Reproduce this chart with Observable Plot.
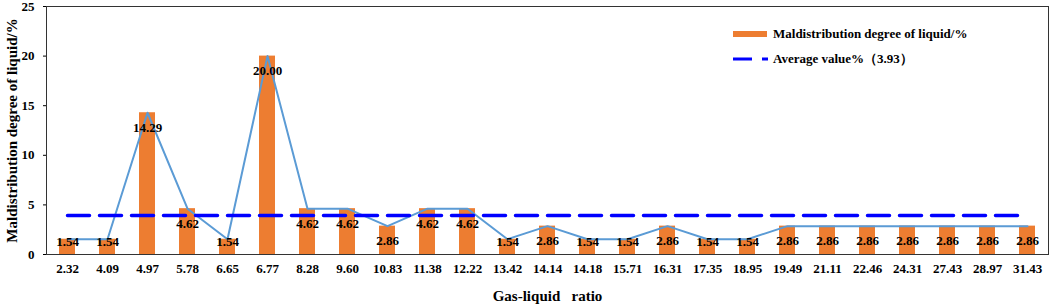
<!DOCTYPE html>
<html>
<head>
<meta charset="utf-8">
<script src="https://cdn.jsdelivr.net/npm/d3@7"></script>
<script src="https://cdn.jsdelivr.net/npm/@observablehq/plot@0.6"></script>
<style>
  html, body { margin: 0; padding: 0; background: #fff; }
  #wrap { position: relative; width: 1052px; height: 305px; }
  .legend { position: absolute; left: 733px; font-family: "Liberation Serif", "Times New Roman", serif; font-weight: bold; font-size: 13px; color: #000; display: flex; align-items: center; white-space: pre; }
  .legend svg { margin-right: 4px; }
</style>
</head>
<body>
<div id="wrap"></div>
<script>
const ratioLabels = ["2.32","4.09","4.97","5.78","6.65","6.77","8.28","9.60","10.83","11.38","12.22","13.42","14.14","14.18","15.71","16.31","17.35","18.95","19.49","21.11","22.46","24.31","27.43","28.97","31.43"];
const maldistribution = [1.54,1.54,14.29,4.62,1.54,20.00,4.62,4.62,2.86,4.62,4.62,1.54,2.86,1.54,1.54,2.86,1.54,1.54,2.86,2.86,2.86,2.86,2.86,2.86,2.86];
const averageValue = 3.93;
const yTicks = [0,5,10,15,20,25];
const seriesName = "Maldistribution degree of liquid/%";
const averageName = "Average value%（3.93）";

const rows = ratioLabels.map((r, i) => ({ratio: r, value: maldistribution[i]}));
const serif = '"Liberation Serif", "Times New Roman", serif';

const chart = Plot.plot({
  width: 1052,
  height: 305,
  marginLeft: 46,
  marginRight: 4,
  marginTop: 6,
  marginBottom: 51,
  style: {fontFamily: serif, fontWeight: "bold", fontSize: "13px", color: "#000", background: "#fff"},
  x: {domain: ratioLabels, paddingInner: 0.6, paddingOuter: 0.3},
  y: {domain: [0, 25]},
  marks: [
    Plot.barY(rows, {x: "ratio", y: "value", fill: "#ED7D31"}),
    Plot.line(rows, {x: "ratio", y: "value", stroke: "#5B9BD5", strokeWidth: 2}),
    Plot.line(ratioLabels, {x: d => d, y: () => averageValue, stroke: "#0000FF", strokeWidth: 3.5, strokeDasharray: "22,10"}),
    Plot.text(rows, {x: "ratio", y: d => Math.max(d.value - 1.5, 1.3), text: d => d.value.toFixed(2), fill: "#000", fontSize: 13, fontWeight: "bold"}),
    Plot.axisY({ticks: yTicks, tickSize: 3, tickPadding: 9, fontSize: 13, fontWeight: "bold",
      label: "Maldistribution degree of liquid/%", labelAnchor: "center", labelArrow: "none", labelOffset: 40}),
    Plot.axisX({tickSize: 0, tickPadding: 9, fontSize: 13, fontWeight: "bold",
      label: "Gas-liquid\u00a0\u00a0\u00a0ratio", labelAnchor: "center", labelArrow: "none", labelOffset: 46}),
    Plot.frame({stroke: "#333", strokeWidth: 1})
  ]
});

chart.querySelectorAll("[aria-label='y-axis label'] text, [aria-label='x-axis label'] text").forEach(t => {
  t.setAttribute("font-size", "15");
  t.style.fontSize = "15px";
});

const wrap = document.getElementById("wrap");
wrap.appendChild(chart);

const l1 = document.createElement("div");
l1.className = "legend";
l1.style.top = "26px";
l1.innerHTML = '<svg width="36" height="16"><rect x="0" y="5" width="34" height="6" fill="#ED7D31"/></svg>';
l1.appendChild(document.createTextNode(seriesName));
wrap.appendChild(l1);

const l2 = document.createElement("div");
l2.className = "legend";
l2.style.top = "50px";
l2.innerHTML = '<svg width="36" height="16"><line x1="0" y1="8" x2="35" y2="8" stroke="#0000FF" stroke-width="3" stroke-dasharray="19,10"/></svg>';
l2.appendChild(document.createTextNode(averageName));
wrap.appendChild(l2);
</script>
</body>
</html>
